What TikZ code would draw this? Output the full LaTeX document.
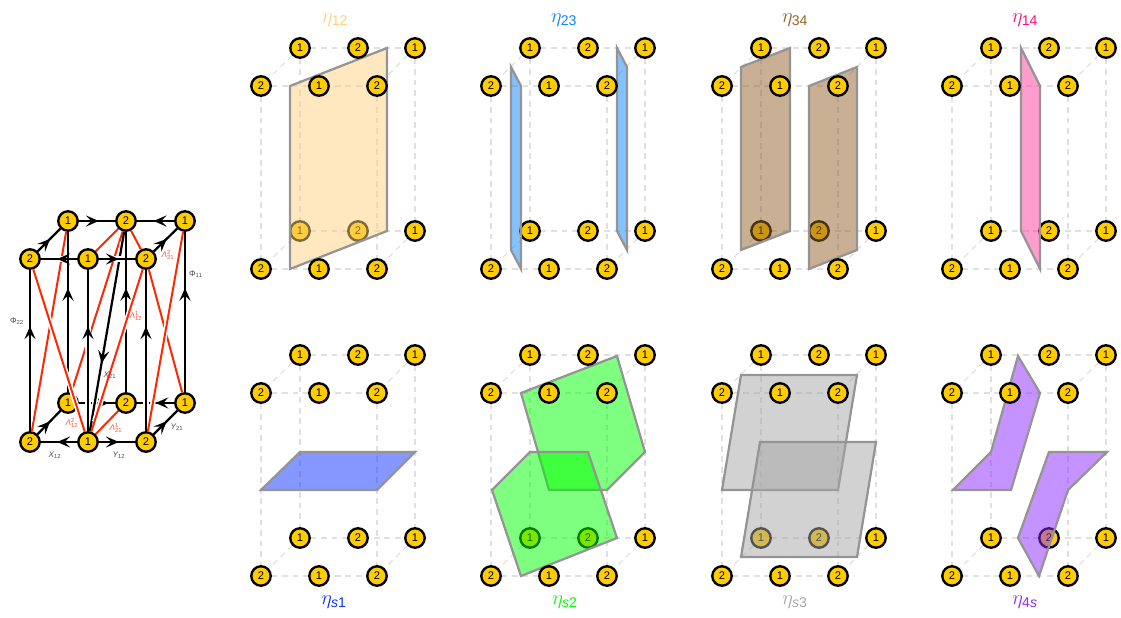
\documentclass[tikz,border=0pt]{standalone}
\usepackage{amsmath,amssymb}
\usepackage{fontspec}
\setsansfont{Liberation Sans}
\usepackage{tikz}
\usetikzlibrary{arrows.meta,decorations.markings}

\definecolor{etaOrange}{RGB}{255,208,128}
\definecolor{etaSky}{RGB}{10,132,255}
\definecolor{etaBrown}{RGB}{148,96,40}
\definecolor{etaPink}{RGB}{255,10,130}
\definecolor{etaBlue}{RGB}{10,50,255}
\definecolor{etaGreen}{RGB}{0,255,0}
\definecolor{etaGray}{RGB}{165,165,165}
\definecolor{etaPurple}{RGB}{140,40,255}
\definecolor{nodeGold}{RGB}{255,204,0}
\definecolor{lineRed}{RGB}{255,38,0}

\newcommand{\sfi}[1]{\text{\sffamily\itshape #1}}

\tikzset{
  gauge/.style={circle,draw=black,line width=2pt,fill=nodeGold,minimum size=16.6pt,inner sep=0pt,font=\sffamily\fontsize{9.5}{10}\selectfont},
  grid/.style={draw=black!12,line width=1pt,dash pattern=on 5pt off 4pt},
  facet/.style={draw=black!42,line width=1.9pt,fill opacity=.5},
  title/.style={font=\LARGE},
  tag/.style={font=\fontsize{7}{8}\selectfont,text=black!70,inner sep=0pt},
  halo/.style={preaction={draw=white,line width=4.4pt,shorten <=9pt,shorten >=9pt}},
  field/.style={draw=black,line width=1.9pt,halo,postaction={decorate,decoration={markings,mark=at position #1 with {\arrow{Stealth[length=11pt,width=9.5pt,inset=4.5pt]}}}}},
  field/.default=.55,
  term/.style={draw=lineRed,line width=1.7pt,halo},
}

\begin{document}
\begin{tikzpicture}[x=0.03cm,y=-0.03cm]
  \useasboundingbox (0,0) rectangle (1121,618);

  % Quiver nodes
  \foreach \n/\x/\y/\t in {ta/68/221/1,tb/126/221/2,tc/185/221/1,ua/30/259/2,ub/88/259/1,uc/146/259/2,ba/68/403/1,bb/126/403/2,bc/185/403/1,fa/30/442/2,fb/88/442/1,fc/146/442/2}
    \node[gauge] (\n) at (\x,\y) {\t};
  % Back of the quiver
  \draw[field] (ta)--(tb);
  \draw[field] (tc)--(tb);
  \draw[field=.82] (ba)--(bb);
  \draw[field=.5] (bc)--(bb);
  \draw[field=.65] (ba)--(ta);
  \draw[field=.65] (bb)--(tb);
  \draw[field=.65] (bc)--(tc);
  % Red terms that pass behind
  \draw[term] (ta)--(fa);
  \draw[term] (tb)--(ba);
  \draw[term] (uc)--(bc);
  % Front of the quiver
  \draw[field=.65] (fa)--(ua);
  \draw[field=.65] (fb)--(ub);
  \draw[field=.65] (fc)--(uc);
  \draw[field=.66] (tb)--(fb);
  \draw[term] (ua)--(fb);
  \draw[term] (tc)--(fc);
  \draw[term] (uc)--(fb);
  \draw[term] (tb)--(ub);
  \draw[term] (tb)--(uc);
  \draw[term] (bb)--(fb);
  \draw[field] (ub)--(ua);
  \draw[field] (ub)--(uc);
  \draw[field] (fb)--(fa);
  \draw[field] (fb)--(fc);
  \draw[field] (ua)--(ta);
  \draw[field] (uc)--(tc);
  \draw[field] (fa)--(ba);
  \draw[field] (fc)--(bc);
  % Quiver labels
  \node[tag] (phiB) at (17,321) {\textsf{Φ}$_{\mathsf{22}}$};
  \node[tag] (phiA) at (196,274) {\textsf{Φ}$_{\mathsf{11}}$};
  \node[tag] (xab) at (55,455) {$\sfi{X}_{\mathsf{12}}$};
  \node[tag] (yab) at (119,455) {$\sfi{Y}_{\mathsf{12}}$};
  \node[tag] (yba) at (177,427) {$\sfi{Y}_{\mathsf{21}}$};
  \node[tag] (xba) at (110,375) {$\sfi{X}_{\mathsf{21}}$};
  \node[tag,text=lineRed!80] (lamA) at (168,255) {$\sfi{Λ}^{\mathsf{2}}_{\mathsf{21}}$};
  \node[tag,text=lineRed!80] (lamB) at (136,316) {$\sfi{Λ}^{\mathsf{1}}_{\mathsf{12}}$};
  \node[tag,text=lineRed!80] (lamC) at (72,423) {$\sfi{Λ}^{\mathsf{2}}_{\mathsf{12}}$};
  \node[tag,text=lineRed!80] (lamD) at (116,428) {$\sfi{Λ}^{\mathsf{1}}_{\mathsf{21}}$};

  % Panels: grid lines and the nodes behind the facets
  \foreach \i/\dx/\dy in {1/0/0,2/230/0,3/461/0,4/691/0,5/0/307,6/230/307,7/461/307,8/691/307}{
    \begin{scope}[shift={(\dx,\dy)}]
      \coordinate (tl\i) at (300,48);
      \coordinate (tm\i) at (358,48);
      \coordinate (tr\i) at (415,48);
      \coordinate (ul\i) at (261,86);
      \coordinate (um\i) at (319,86);
      \coordinate (ur\i) at (377,86);
      \coordinate (bl\i) at (300,231);
      \coordinate (bm\i) at (358,231);
      \coordinate (br\i) at (415,231);
      \coordinate (fl\i) at (261,269);
      \coordinate (fm\i) at (319,269);
      \coordinate (fr\i) at (377,269);
      \draw[grid] (tl\i)--(tr\i);
      \draw[grid] (ul\i)--(ur\i);
      \draw[grid] (bl\i)--(br\i);
      \draw[grid] (fl\i)--(fr\i);
      \draw[grid] (tl\i)--(ul\i);
      \draw[grid] (tr\i)--(ur\i);
      \draw[grid] (bl\i)--(fl\i);
      \draw[grid] (br\i)--(fr\i);
      \draw[grid] (tl\i)--(bl\i);
      \draw[grid] (tr\i)--(br\i);
      \draw[grid] (ul\i)--(fl\i);
      \draw[grid] (ur\i)--(fr\i);
      \node[gauge] (nbl\i) at (bl\i) {1};
      \node[gauge] (nbm\i) at (bm\i) {2};
    \end{scope}
  }

  % Top row facets
  \draw[facet,fill=etaOrange] (290,86)--(387,48)--(387,231)--(290,269)--cycle;
  \draw[facet,fill=etaSky] (511,67)--(521,86)--(521,269)--(511,250)--cycle;
  \draw[facet,fill=etaSky] (617,48)--(627,67)--(627,250)--(617,231)--cycle;
  \draw[facet,fill=etaBrown] (741,67)--(790,48)--(790,231)--(741,250)--cycle;
  \draw[facet,fill=etaBrown] (809,86)--(857,67)--(857,250)--(809,269)--cycle;
  \draw[facet,fill=etaPink!80] (1021,48)--(1040,86)--(1040,269)--(1021,231)--cycle;
  % Bottom row facets
  \draw[facet,fill=etaBlue] (300,452)--(415,452)--(377,490)--(261,490)--cycle;
  \draw[facet,fill=etaGreen] (521,393)--(617,356)--(645,452)--(607,490)--(549,490)--cycle;
  \draw[facet,fill=etaGreen] (530,452)--(588,452)--(617,538)--(521,576)--(492,490)--cycle;
  \draw[facet,fill=etaGray] (741,375)--(857,375)--(838,490)--(722,490)--cycle;
  \draw[facet,fill=etaGray] (760,442)--(876,442)--(857,557)--(741,557)--cycle;
  \draw[facet,fill=etaPurple] (1018,356)--(1040,393)--(1011,490)--(953,490)--(991,452)--cycle;
  \draw[facet,fill=etaPurple] (1049,452)--(1107,452)--(1068,490)--(1039,576)--(1018,538)--cycle;

  % Panels: the nodes in front of the facets
  \foreach \i in {1,...,8}{
    \node[gauge] (ntl\i) at (tl\i) {1};
    \node[gauge] (ntm\i) at (tm\i) {2};
    \node[gauge] (ntr\i) at (tr\i) {1};
    \node[gauge] (nul\i) at (ul\i) {2};
    \node[gauge] (num\i) at (um\i) {1};
    \node[gauge] (nur\i) at (ur\i) {2};
    \node[gauge] (nbr\i) at (br\i) {1};
    \node[gauge] (nfl\i) at (fl\i) {2};
    \node[gauge] (nfm\i) at (fm\i) {1};
    \node[gauge] (nfr\i) at (fr\i) {2};
  }

  % Titles
  \node[title,text=etaOrange] (titleA) at (335,20) {$\eta_{\mathsf{12}}$};
  \node[title,text=etaSky] (titleB) at (564,20) {$\eta_{\mathsf{23}}$};
  \node[title,text=etaBrown] (titleC) at (795,20) {$\eta_{\mathsf{34}}$};
  \node[title,text=etaPink] (titleD) at (1025,20) {$\eta_{\mathsf{14}}$};
  \node[title,text=etaBlue] (titleE) at (334,602) {$\eta_{\sfi{s}\mathsf{1}}$};
  \node[title,text=etaGreen] (titleF) at (565,602) {$\eta_{\sfi{s}\mathsf{2}}$};
  \node[title,text=etaGray] (titleG) at (795,602) {$\eta_{\sfi{s}\mathsf{3}}$};
  \node[title,text=etaPurple] (titleH) at (1025,602) {$\eta_{\mathsf{4}\sfi{s}}$};
\end{tikzpicture}
\end{document}
